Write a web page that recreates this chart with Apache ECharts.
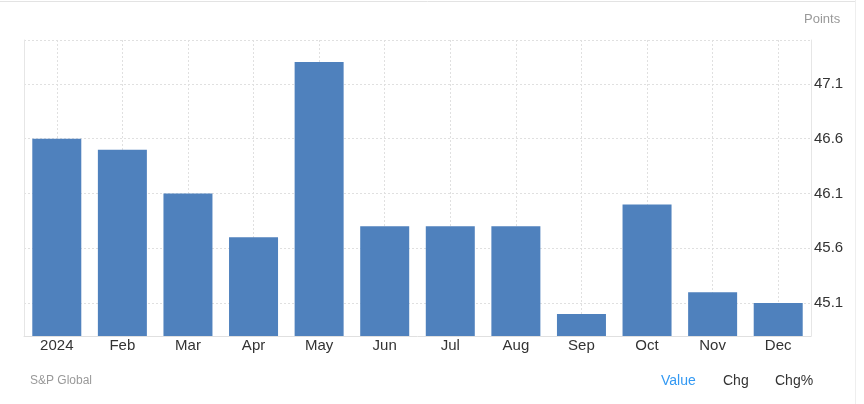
<!DOCTYPE html>
<html>
<head>
<meta charset="utf-8">
<style>html,body{margin:0;padding:0;background:#fff}#c{width:864px;height:404px}</style>
<script src="https://cdn.jsdelivr.net/npm/echarts@6/dist/echarts.min.js"></script>
</head>
<body>
<div id="c"></div>
<script>
const categories = ['2024','Feb','Mar','Apr','May','Jun','Jul','Aug','Sep','Oct','Nov','Dec'];
const values = [46.6, 46.5, 46.1, 45.7, 47.3, 45.8, 45.8, 45.8, 45.0, 46.0, 45.2, 45.1];
const yTicks = [45.1, 45.6, 46.1, 46.6, 47.1];
const yMin = 44.8;
const yMax = 47.5;

const chart = echarts.init(document.getElementById('c'), null, {renderer: 'canvas'});
const font = 'Liberation Sans, Arial, Helvetica, sans-serif';
chart.setOption({
  animation: false,
  backgroundColor: '#fff',
  textStyle: {fontFamily: font},
  grid: {left: 24, right: 53, top: 40, bottom: 68, containLabel: false},
  xAxis: {
    type: 'category',
    data: categories,
    boundaryGap: true,
    axisLine: {show: true, lineStyle: {color: '#e0e0e0', width: 1}},
    axisTick: {show: false, alignWithLabel: true},
    axisLabel: {color: '#333', fontSize: 15, fontFamily: font, margin: 2},
    splitLine: {show: true, alignWithLabel: true, lineStyle: {color: '#e0e0e0', type: [2, 2], width: 1}}
  },
  yAxis: [{
    type: 'value',
    position: 'right',
    min: yMin,
    max: yMax,
    axisLine: {show: true, lineStyle: {color: '#e6e6e6'}},
    axisTick: {show: false, customValues: yTicks.concat([yMax])},
    axisLabel: {color: '#333', fontSize: 15, fontFamily: font, margin: 3, customValues: yTicks,
      formatter: v => v.toFixed(1)},
    splitLine: {show: true, lineStyle: {color: '#e0e0e0', type: [2, 2], width: 1}}
  }, {
    type: 'value',
    position: 'left',
    min: yMin,
    max: yMax,
    axisLine: {show: true, lineStyle: {color: '#e6e6e6'}},
    axisTick: {show: false},
    axisLabel: {show: false},
    splitLine: {show: false}
  }],
  series: [{
    type: 'bar',
    data: values,
    yAxisIndex: 0,
    barWidth: 49,
    itemStyle: {color: '#4f81bd'},
    silent: true
  }],
  graphic: [
    {type: 'line', shape: {x1: 0, y1: 1.5, x2: 855, y2: 1.5}, style: {stroke: '#e3e3e3', lineWidth: 1}, silent: true},
    {type: 'line', shape: {x1: 855.5, y1: 0, x2: 855.5, y2: 404}, style: {stroke: '#eeeeee', lineWidth: 1}, silent: true},
    {type: 'text', left: 804, top: 13, style: {text: 'Points', fill: '#999', font: '13px ' + font}},
    {type: 'text', left: 30, top: 375, style: {text: 'S&P Global', fill: '#999', font: '12px ' + font}},
    {type: 'text', left: 661, top: 374, style: {text: 'Value', fill: '#3399f3', font: '14px ' + font}},
    {type: 'text', left: 723, top: 374, style: {text: 'Chg', fill: '#333', font: '14px ' + font}},
    {type: 'text', left: 775, top: 374, style: {text: 'Chg%', fill: '#333', font: '14px ' + font}}
  ]
});
</script>
</body>
</html>
